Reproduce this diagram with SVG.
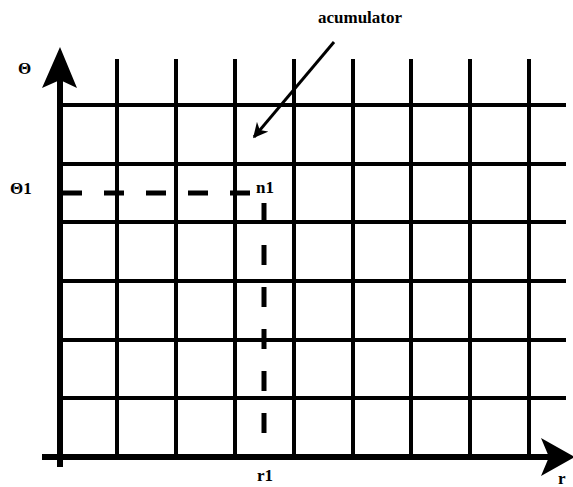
<svg xmlns="http://www.w3.org/2000/svg" width="573" height="487" viewBox="0 0 573 487">
<defs>
<style>
.grid{stroke:#000;stroke-width:4;fill:none}
.axis{stroke:#000;stroke-width:6;fill:none}
.dash{stroke:#000;stroke-width:5;stroke-dasharray:20 22;fill:none}
.lbl{font-family:'Liberation Serif','DejaVu Serif','Times New Roman',serif;font-weight:bold;font-size:17px;fill:#000}
</style>
<marker id="ah" viewBox="0 0 10 10" refX="9" refY="5" markerWidth="5" markerHeight="5" orient="auto" markerUnits="strokeWidth">
<path d="M0,0 L10,5 L0,10 L3,5 z" fill="#000"/>
</marker>
</defs>
<rect width="573" height="487" fill="#fff"/>
<g id="grid">
<path class="grid" d="M117,59V457M176,59V457M235,59V457M294,59V457M353,59V457M411,59V457M470,59V457M529,59V457"/>
<path class="grid" d="M58,105H566M58,164H566M58,222H566M58,281H566M58,340H566M58,398H566"/>
</g>
<g id="axes">
<line class="axis" x1="60" y1="80" x2="60" y2="467"/>
<polygon points="60,47 77,88 60,80 42,88" fill="#000"/>
<line class="axis" x1="42" y1="457" x2="550" y2="457"/>
<polygon points="575,457 541,476 549,457 541,438" fill="#000"/>
</g>
<g id="connectors">
<line class="dash" x1="62" y1="193" x2="252" y2="193"/>
<line class="dash" x1="264" y1="203" x2="264" y2="440"/>
<line x1="334" y1="42" x2="254" y2="137" stroke="#000" stroke-width="3" marker-end="url(#ah)"/>
</g>
<g id="labels">
<text class="lbl" x="18" y="74">Θ</text>
<text class="lbl" x="10" y="194">Θ1</text>
<text class="lbl" x="256" y="193">n1</text>
<text class="lbl" x="257" y="481">r1</text>
<text class="lbl" x="558" y="484" font-size="15">r</text>
<text class="lbl" x="318" y="23" font-size="18">acumulator</text>
</g>
</svg>
